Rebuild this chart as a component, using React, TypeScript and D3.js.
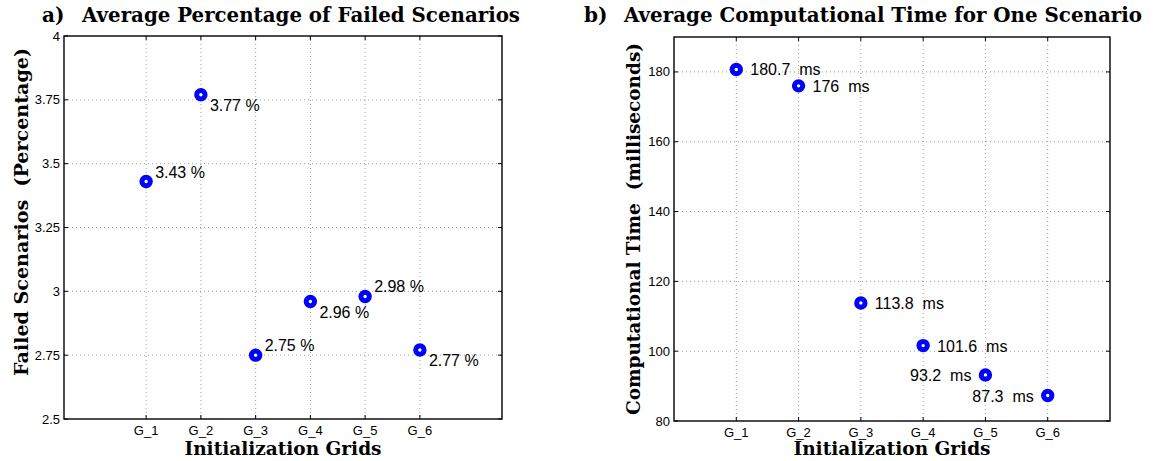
import React from "react";
import * as d3 from "d3";

const categories = ["G_1", "G_2", "G_3", "G_4", "G_5", "G_6"];
const failedPct = [3.43, 3.77, 2.75, 2.96, 2.98, 2.77];
const compTimeMs = [180.7, 176, 113.8, 101.6, 93.2, 87.3];
const failedTicks = [2.5, 2.75, 3, 3.25, 3.5, 3.75, 4];
const timeTicks = [80, 100, 120, 140, 160, 180];
// label placement (style): a = above-right, b = below-right, r = right, l = left
const failedLabelSide = ["a", "b", "a", "b", "a", "b"];
const timeLabelSide = ["r", "r", "r", "r", "l", "l"];

const SANS = "'Liberation Sans', Arial, sans-serif";
const SERIF = "'DejaVu Serif', serif";
const BLUE = "#0000ff";

type PanelProps = {
  left: number; right: number; top: number; bottom: number;
  xDomain: [number, number]; yDomain: [number, number];
  values: number[]; yTicks: number[]; sides: string[];
  fmt: (v: number) => string; title: string; titleX: number; prefix: string;
  ylabel: string; ylabelX: number; ylabelY: number; ylabelLen: number; titleLen: number;
};

function Panel(p: PanelProps) {
  const x = d3.scaleLinear().domain(p.xDomain).range([p.left, p.right]);
  const y = d3.scaleLinear().domain(p.yDomain).range([p.bottom, p.top]);
  const xs = categories.map((_, i) => i + 1);
  const cx = (p.left + p.right) / 2;
  return (
    <g>
      {xs.map((v) => (
        <line key={"gx" + v} x1={x(v)} x2={x(v)} y1={p.top} y2={p.bottom}
          stroke="#888" strokeWidth={0.8} strokeDasharray="1 3" />
      ))}
      {p.yTicks.filter((t) => t > p.yDomain[0] && t < p.yDomain[1]).map((t) => (
        <line key={"gy" + t} x1={p.left} x2={p.right} y1={y(t)} y2={y(t)}
          stroke="#888" strokeWidth={0.8} strokeDasharray="1 3" />
      ))}
      {xs.map((v) => (
        <g key={"tx" + v}>
          <line x1={x(v)} x2={x(v)} y1={p.bottom} y2={p.bottom - 4} stroke="#000" />
          <line x1={x(v)} x2={x(v)} y1={p.top} y2={p.top + 4} stroke="#000" />
          <text x={x(v)} y={p.bottom + 16} textAnchor="middle" fontFamily={SANS} fontSize={13}>
            {categories[v - 1]}
          </text>
        </g>
      ))}
      {p.yTicks.map((t) => (
        <g key={"ty" + t}>
          <line x1={p.left} x2={p.left + 4} y1={y(t)} y2={y(t)} stroke="#000" />
          <line x1={p.right} x2={p.right - 4} y1={y(t)} y2={y(t)} stroke="#000" />
          <text x={p.left - 4} y={y(t)} dy="0.35em" textAnchor="end" fontFamily={SANS} fontSize={13}>
            {String(t)}
          </text>
        </g>
      ))}
      <rect x={p.left} y={p.top} width={p.right - p.left} height={p.bottom - p.top}
        fill="none" stroke="#000" strokeWidth={1.4} />
      {p.values.map((v, i) => (
        <circle key={"m" + i} cx={x(i + 1)} cy={y(v)} r={4.2} fill="#fff" stroke={BLUE} strokeWidth={5} />
      ))}
      {p.values.map((v, i) => {
        const s = p.sides[i];
        const px = x(i + 1), py = y(v);
        let tx = px + 9, ty = py - 4, anchor = "start";
        if (s === "b") { ty = py + 16; }
        if (s === "r") { tx = px + 14; ty = py + 6; }
        if (s === "l") { tx = px - 14; ty = py + 6; anchor = "end"; }
        return (
          <text key={"l" + i} x={tx} y={ty} textAnchor={anchor} fontFamily={SANS} fontSize={16}
            style={{ whiteSpace: "pre" }}>{p.fmt(v)}</text>
        );
      })}
      <text x={p.titleX} y={22} fontFamily={SERIF} fontWeight="bold" fontSize={20}>
        {p.prefix}
      </text>
      <text x={p.titleX + 40} y={22} fontFamily={SERIF} fontWeight="bold" fontSize={20}
        textLength={p.titleLen} lengthAdjust="spacingAndGlyphs">
        {p.title}
      </text>
      <text x={cx} y={455} textAnchor="middle" fontFamily={SERIF} fontWeight="bold" fontSize={18.5}
        textLength={197} lengthAdjust="spacingAndGlyphs">
        Initialization Grids
      </text>
      <text transform={`translate(${p.ylabelX},${p.ylabelY}) rotate(-90)`} textAnchor="middle"
        fontFamily={SERIF} fontWeight="bold" fontSize={19} textLength={p.ylabelLen}
        lengthAdjust="spacingAndGlyphs" style={{ whiteSpace: "pre" }}>
        {p.ylabel}
      </text>
    </g>
  );
}

export default function App() {
  return (
    <svg width={1166} height={461}
      style={{ display: "block", background: "#fff", position: "absolute", left: 0, top: 0 }}>
      <Panel left={64} right={502} top={36} bottom={419} xDomain={[-0.5, 7.5]} yDomain={[2.5, 4]}
        values={failedPct} yTicks={failedTicks} sides={failedLabelSide}
        fmt={(v) => `${v.toFixed(2)} %`} prefix="a)" title="Average Percentage of Failed Scenarios"
        titleX={42} titleLen={438} ylabel="Failed Scenarios  (Percentage)" ylabelX={28} ylabelY={212} ylabelLen={328} />
      <Panel left={674} right={1110} top={37} bottom={421} xDomain={[0, 7]} yDomain={[80, 190]}
        values={compTimeMs} yTicks={timeTicks} sides={timeLabelSide}
        fmt={(v) => `${v}  ms`} prefix="b)" title="Average Computational Time for One Scenario"
        titleX={584} titleLen={518} ylabel="Computational Time  (milliseconds)" ylabelX={640} ylabelY={229} ylabelLen={372} />
    </svg>
  );
}
